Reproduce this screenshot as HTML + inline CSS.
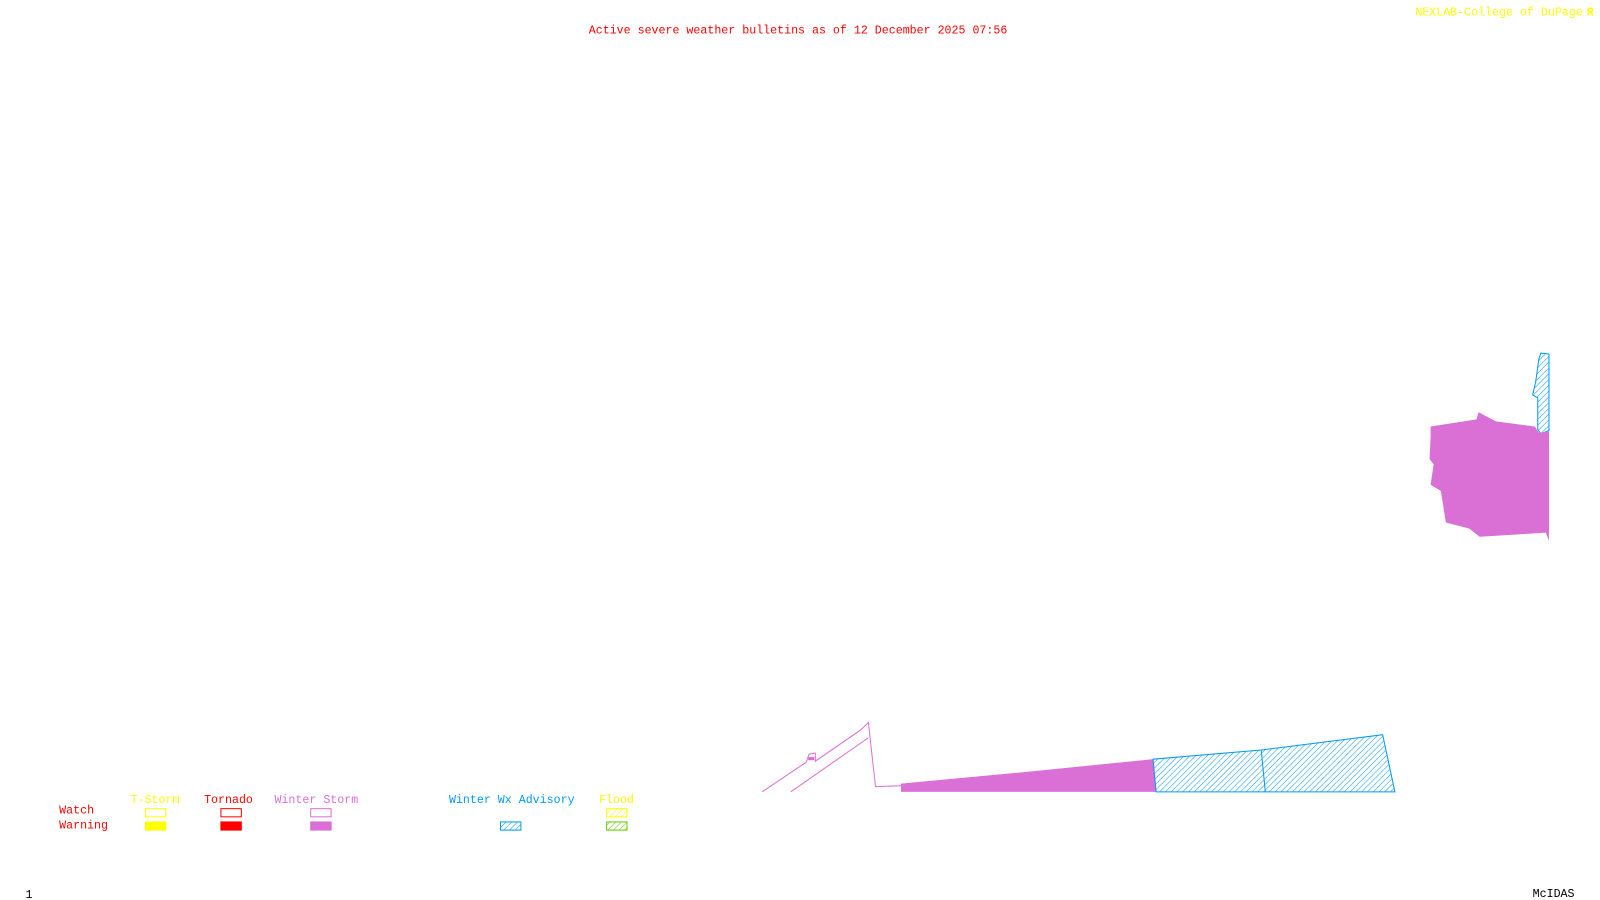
<!DOCTYPE html>
<html><head><meta charset="utf-8"><style>
html,body{margin:0;padding:0;background:#fff;width:1600px;height:900px;overflow:hidden}
svg{display:block}
text{font-family:"Liberation Mono",monospace;font-size:11.4px}
</style></head><body>
<svg width="1600" height="900" viewBox="0 0 1568 882" preserveAspectRatio="none">
<defs>
<pattern id="hb" width="4" height="4" patternUnits="userSpaceOnUse" patternTransform="rotate(45)"><line x1="0" y1="0" x2="0" y2="4" stroke="#0099ff" stroke-width="1"/></pattern>
<pattern id="hy" width="4" height="4" patternUnits="userSpaceOnUse" patternTransform="rotate(45)"><line x1="0" y1="0" x2="0" y2="4" stroke="#ffff00" stroke-width="1"/></pattern>
<pattern id="hg" width="4" height="4" patternUnits="userSpaceOnUse" patternTransform="rotate(45)"><line x1="0" y1="0" x2="0" y2="4" stroke="#66cc00" stroke-width="1"/></pattern>
</defs>
<text x="577" y="33" fill="#ff0000">Active severe weather bulletins as of 12 December 2025 07:56</text>
<text x="1387" y="15" fill="#ffff00">NEXLAB-College of DuPage</text>
<text x="1555" y="15" fill="#ffff00" font-weight="bold">R</text>
<text x="25" y="880" fill="#000">1</text>
<text x="1502" y="879" fill="#000">McIDAS</text>
<path d="M1508,352 L1510,346 L1518,347 L1518,422 L1510,425 L1507,421 L1507,390 L1502,387 L1505,374 Z" fill="url(#hb)" stroke="#0099ff" stroke-width="1"/>
<path d="M1402,428 L1402,418 L1447,411 L1449,404 L1466,413 L1504,418 L1508,424 L1518,423 L1518,530 L1515,522 L1450,526 L1440,518 L1417,512 L1412,481 L1402,475 L1405,455 L1401,450 Z" fill="#da70d6"/>
<path d="M747,776 L790,747 L793,739 L799,738 L799,746 L844,715 L851,708 L858,771 L883,770" fill="none" stroke="#da70d6" stroke-width="1"/>
<path d="M775,776 L851,723" fill="none" stroke="#da70d6" stroke-width="1"/>
<rect x="792" y="742" width="6" height="3" fill="#da70d6"/>
<path d="M883,768 L1000,757 L1130,744 L1133,776 L883,776 Z" fill="#da70d6"/>
<path d="M1130,744 L1236,735 L1355,720 L1367,776 L1133,776 Z" fill="url(#hb)" stroke="#0099ff" stroke-width="1"/>
<line x1="1236" y1="735" x2="1240" y2="776" stroke="#0099ff"/>
<text x="58" y="797" fill="#ff0000">Watch</text>
<text x="58" y="812" fill="#ff0000">Warning</text>
<text x="128" y="787" fill="#ffff00">T-Storm</text>
<text x="200" y="787" fill="#ff0000">Tornado</text>
<text x="269" y="787" fill="#da70d6">Winter Storm</text>
<text x="440" y="787" fill="#0099ff">Winter Wx Advisory</text>
<text x="587" y="787" fill="#ffff00">Flood</text>
<rect x="142.5" y="792.5" width="20" height="8" fill="none" stroke="#ffff00"/>
<rect x="216.5" y="792.5" width="20" height="8" fill="none" stroke="#ff0000"/>
<rect x="304.5" y="792.5" width="20" height="8" fill="none" stroke="#da70d6"/>
<rect x="594.5" y="792.5" width="20" height="8" fill="url(#hy)" stroke="#ffff00"/>
<rect x="142" y="805" width="21" height="9" fill="#ffff00"/>
<rect x="216" y="805" width="21" height="9" fill="#ff0000"/>
<rect x="304" y="805" width="21" height="9" fill="#da70d6"/>
<rect x="490.5" y="805.5" width="20" height="8" fill="url(#hb)" stroke="#0099ff"/>
<rect x="594.5" y="805.5" width="20" height="8" fill="url(#hg)" stroke="#66cc00"/>
</svg>
</body></html>
